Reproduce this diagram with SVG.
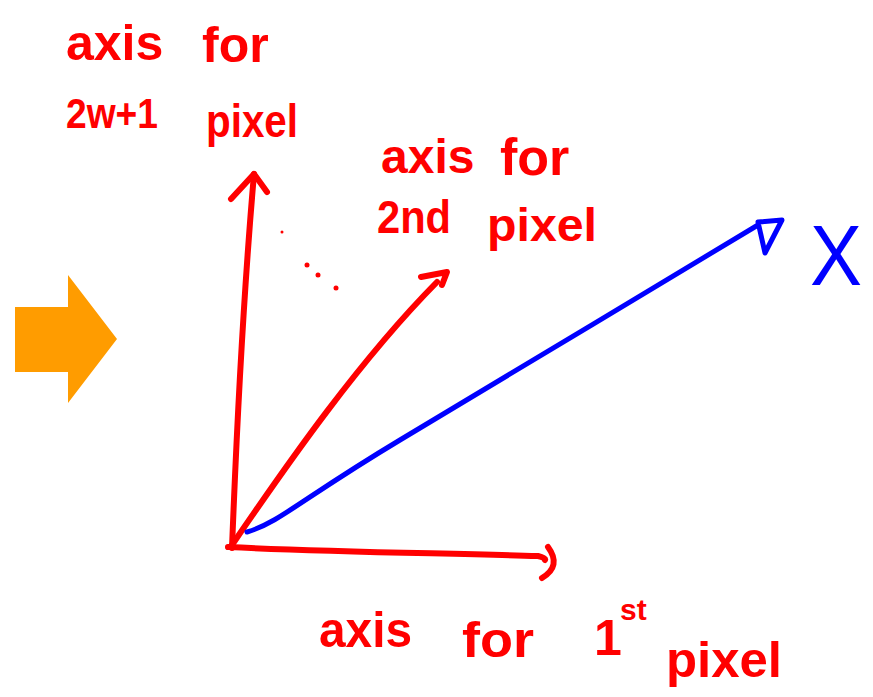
<svg xmlns="http://www.w3.org/2000/svg" width="873" height="697" viewBox="0 0 873 697">
<style>
.red{fill:none;stroke:#ff0000;stroke-width:6;stroke-linecap:round;stroke-linejoin:round}
.blue{fill:none;stroke:#0000ff;stroke-width:5;stroke-linecap:round;stroke-linejoin:round}
.lbl{font-family:"Liberation Sans",Arial,sans-serif;font-weight:bold;fill:#ff0000}
</style>
<rect width="873" height="697" fill="#ffffff"/>
<g id="big-arrow">
<polygon points="15,307 68,307 68,275 117,339 68,403 68,372 15,372" fill="#ff9c00"/>
</g>
<g id="connectors">
<path class="red" d="M232,548 C237,420 243,300 254,174"/>
<path class="red" d="M231,199 L254,174 L267,192"/>
<path class="red" d="M228,547 C330,552 440,553 538,556 Q546,558 545,560"/>
<path class="red" d="M548,547 Q562,566 542,578"/>
<path class="red" d="M232,545 C290,460 360,360 437,282"/>
<path class="red" d="M421,277 L447,272 L442,285"/>
<path class="blue" d="M247,532 C280,522 300,500 400,440 S650,290 758,225"/>
<polygon class="blue" points="758,222 782,220 765,253"/>
<g fill="#ff0000">
<circle cx="282" cy="232" r="1.5"/>
<circle cx="307" cy="265" r="2.5"/>
<circle cx="318" cy="275" r="2.5"/>
<circle cx="336" cy="288" r="2.5"/>
</g>
</g>
<g id="label-2w1">
<text class="lbl" font-size="50"><tspan x="66" y="60">axis</tspan><tspan x="202" y="62">for</tspan></text>
<text class="lbl" font-size="42"><tspan x="66" y="128" textLength="92" lengthAdjust="spacingAndGlyphs">2w+1</tspan><tspan x="206" y="137" font-size="46" textLength="92" lengthAdjust="spacingAndGlyphs">pixel</tspan></text>
</g>
<g id="label-2nd">
<text class="lbl" font-size="48"><tspan x="381" y="173">axis</tspan><tspan x="500" y="175" font-size="52">for</tspan></text>
<text class="lbl" font-size="46"><tspan x="377" y="233" textLength="74" lengthAdjust="spacingAndGlyphs">2nd</tspan><tspan x="487" y="241" textLength="110" lengthAdjust="spacingAndGlyphs">pixel</tspan></text>
</g>
<g id="label-1st">
<text class="lbl" font-size="50"><tspan x="319" y="647" textLength="93" lengthAdjust="spacingAndGlyphs">axis</tspan><tspan x="462" y="657" textLength="72" lengthAdjust="spacingAndGlyphs">for</tspan><tspan x="594" y="655">1</tspan><tspan x="620" y="620" font-size="30">st</tspan><tspan x="666" y="677" textLength="116" lengthAdjust="spacingAndGlyphs">pixel</tspan></text>
</g>
<g id="label-x">
<text x="810" y="285" font-family="Liberation Sans,Arial,sans-serif" font-size="86" fill="#0000ff" textLength="52" lengthAdjust="spacingAndGlyphs">X</text>
</g>
</svg>
